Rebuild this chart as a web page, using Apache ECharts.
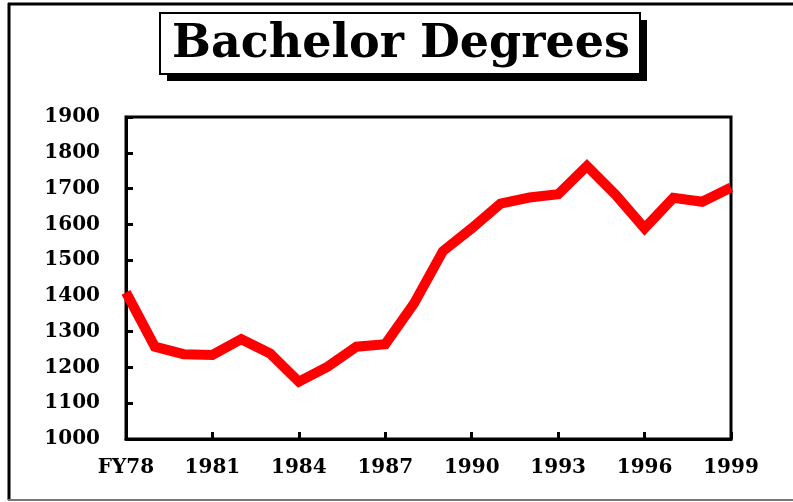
<!DOCTYPE html>
<html>
<head>
<meta charset="utf-8">
<script src="https://cdn.jsdelivr.net/npm/echarts@6/dist/echarts.min.js"></script>
<style>
  html, body { margin: 0; padding: 0; background: #fff; }
  #chart { width: 793px; height: 502px; }
</style>
</head>
<body>
<div id="chart"></div>
<script>
const years = ['FY78', '1979', '1980', '1981', '1982', '1983', '1984', '1985', '1986', '1987', '1988',
  '1989', '1990', '1991', '1992', '1993', '1994', '1995', '1996', '1997', '1998', '1999'];
const degrees = [1410, 1258, 1237, 1235, 1279, 1239, 1160, 1202, 1258, 1265, 1379,
  1525, 1589, 1658, 1675, 1684, 1763, 1682, 1589, 1674, 1663, 1703];
const titleText = 'Bachelor Degrees';

const font = 'DejaVu Serif';
let chart = echarts.init(document.getElementById('chart'));
let option;

option = {
  backgroundColor: '#fff',
  animation: false,
  grid: {
    left: 126,
    right: 62,
    top: 117,
    bottom: 63,
    show: true,
    borderColor: '#000',
    borderWidth: 3
  },
  xAxis: {
    type: 'category',
    data: years,
    boundaryGap: false,
    axisLine: { lineStyle: { color: '#000', width: 3 } },
    axisTick: { inside: true, length: 7, lineStyle: { color: '#000', width: 3 } },
    axisLabel: {
      interval: 2,
      margin: 19,
      color: '#000',
      fontFamily: font,
      fontWeight: 'bold',
      fontSize: 20
    },
    splitLine: { show: false }
  },
  yAxis: {
    type: 'value',
    min: 1000,
    max: 1900,
    interval: 100,
    axisLine: { show: true, lineStyle: { color: '#000', width: 3 } },
    axisTick: { show: true, inside: true, length: 7, lineStyle: { color: '#000', width: 3 } },
    axisLabel: {
      margin: 26,
      color: '#000',
      fontFamily: font,
      fontWeight: 'bold',
      fontSize: 20,
      formatter: (v) => String(v)
    },
    splitLine: { show: false }
  },
  series: [
    {
      type: 'line',
      data: degrees,
      showSymbol: false,
      symbol: 'none',
      lineStyle: { color: '#ff0000', width: 10, join: 'miter' }
    }
  ],
  graphic: [
    // outer frame
    { type: 'line', shape: { x1: 8, y1: 4, x2: 793, y2: 4 }, style: { stroke: '#000', lineWidth: 3 } },
    { type: 'line', shape: { x1: 9, y1: 3, x2: 9, y2: 500 }, style: { stroke: '#000', lineWidth: 3 } },
    { type: 'line', shape: { x1: 8, y1: 500, x2: 793, y2: 500 }, style: { stroke: '#777', lineWidth: 2 } },
    // title box with shadow
    { type: 'rect', shape: { x: 167, y: 20, width: 480, height: 61 }, style: { fill: '#000' } },
    { type: 'rect', shape: { x: 160, y: 13, width: 480, height: 61 }, style: { fill: '#fff', stroke: '#000', lineWidth: 2 } },
    {
      type: 'text',
      x: 401,
      y: 45,
      style: {
        text: titleText,
        fill: '#000',
        font: 'bold 46px "DejaVu Serif"',
        align: 'center',
        verticalAlign: 'middle'
      }
    }
  ]
};

option && chart.setOption(option);
</script>
</body>
</html>
